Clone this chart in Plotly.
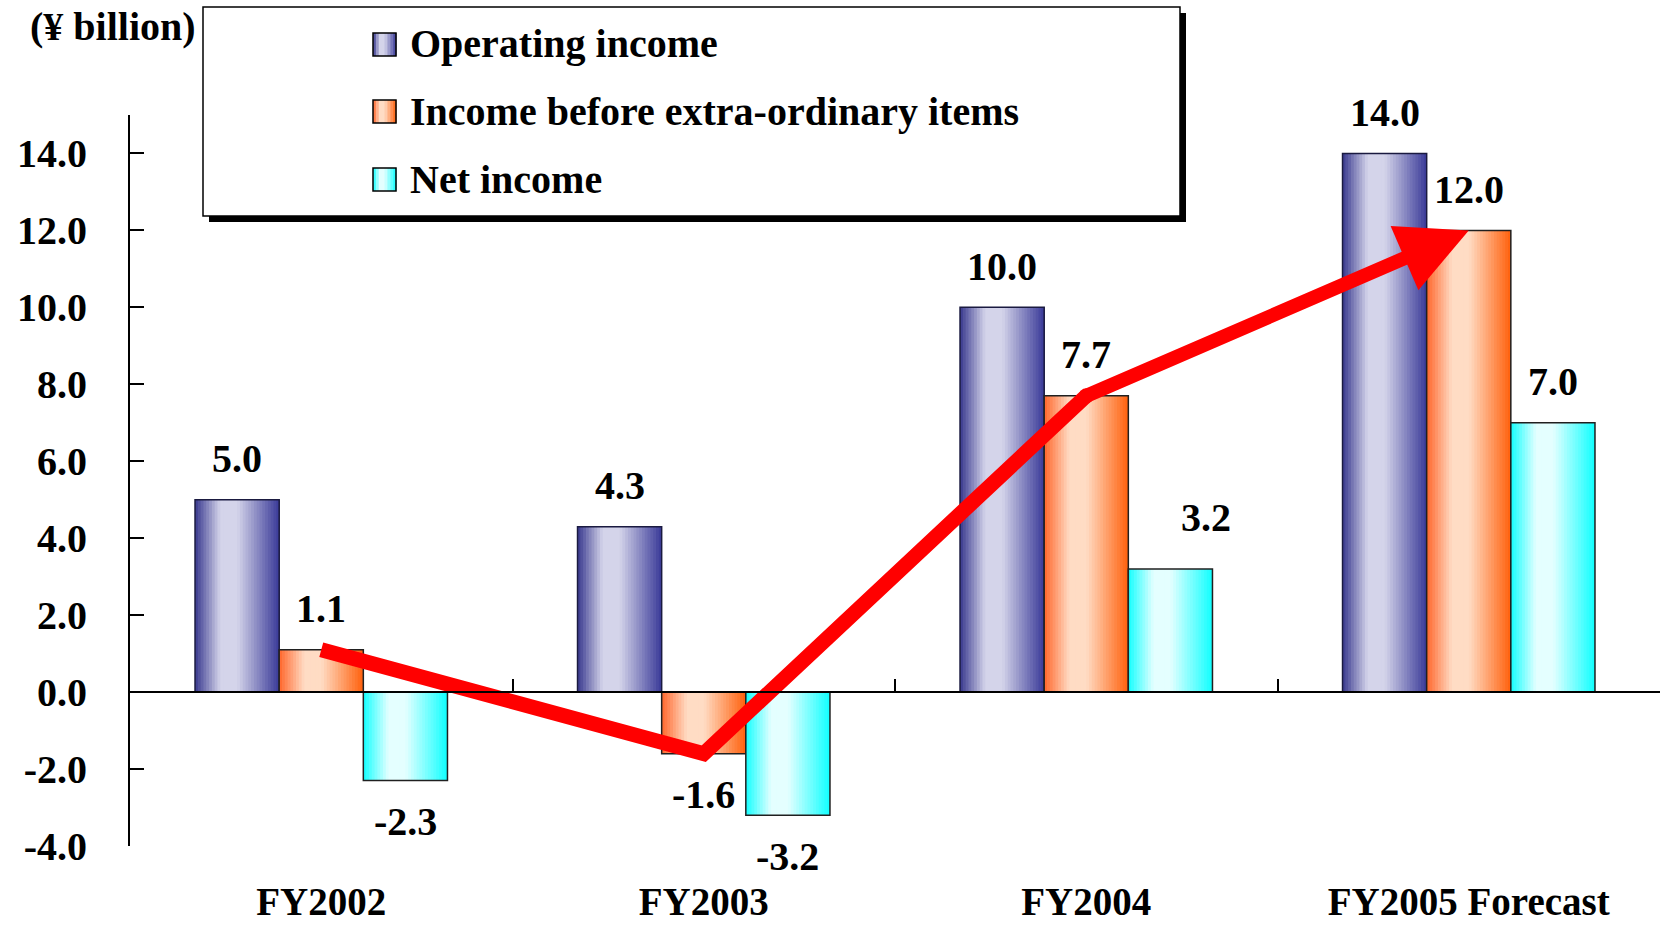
import plotly.graph_objects as go

# --- data -------------------------------------------------------------
categories = ["FY2002", "FY2003", "FY2004", "FY2005 Forecast"]
series_names = ["Operating income", "Income before extra-ordinary items", "Net income"]
operating_income = [5.0, 4.3, 10.0, 14.0]
income_before_extra = [1.1, -1.6, 7.7, 12.0]
net_income = [-2.3, -3.2, 3.2, 7.0]
y_ticks = [-4, -2, 0, 2, 4, 6, 8, 10, 12, 14]
unit_label = "(¥ billion)"

series_values = [operating_income, income_before_extra, net_income]

# --- style ------------------------------------------------------------
FONT = "Liberation Serif"
FS = 40
W, H = 1665, 925
ML, MR, MT, MB = 130, 5, 115, 79
PW, PH = W - ML - MR, H - MT - MB
Y_RANGE = [-4, 15]
BAR_W = 0.22
N_STRIPS = 30
RED = "#ff0000"

# cylinder-like horizontal shading: (pos, colour) stops
GRADIENTS = [
    [(0.0, (0x38, 0x38, 0x8e)), (0.3, (0xd4, 0xd4, 0xea)), (0.5, (0xd4, 0xd4, 0xea)), (1.0, (0x3a, 0x3a, 0x98))],
    [(0.0, (0xff, 0x66, 0x2c)), (0.3, (0xff, 0xdc, 0xc4)), (0.5, (0xff, 0xdc, 0xc4)), (1.0, (0xff, 0x60, 0x0c))],
    [(0.0, (0x14, 0xff, 0xff)), (0.3, (0xe4, 0xff, 0xff)), (0.5, (0xe4, 0xff, 0xff)), (1.0, (0x10, 0xff, 0xff))],
]
OUTLINE = ["#1a1a40", "#202020", "#202020"]

# label nudges (series, category) -> (dx, dy) px
LABEL_NUDGE = {(2, 2): (36, 10)}


def grad_color(stops, t):
    for (p0, c0), (p1, c1) in zip(stops[:-1], stops[1:]):
        if p0 <= t <= p1:
            f = (t - p0) / (p1 - p0) if p1 > p0 else 0
            r, g, b = (round(a + (bb - a) * f) for a, bb in zip(c0, c1))
            return f"rgb({r},{g},{b})"
    r, g, b = stops[-1][1]
    return f"rgb({r},{g},{b})"


def fx(x):
    return (x - ML) / PW


def fy(y):
    return (H - MB - y) / PH


fig = go.Figure()
font = dict(family=FONT, size=FS, color="black", weight="bold")
cat_px = PW / len(categories)

for i, (name, vals) in enumerate(zip(series_names, series_values)):
    left = -1.5 * BAR_W + i * BAR_W
    dw = BAR_W / N_STRIPS
    for k in range(N_STRIPS):
        fig.add_trace(go.Bar(
            x=categories, y=vals, offset=left + k * dw, width=BAR_W - k * dw,
            marker=dict(color=grad_color(GRADIENTS[i], (k + 0.5) / N_STRIPS), line=dict(width=0)),
            showlegend=False, hoverinfo="skip",
        ))
    fig.add_trace(go.Bar(
        x=categories, y=vals, offset=left, width=BAR_W, name=name,
        marker=dict(color="rgba(0,0,0,0)", line=dict(color=OUTLINE[i], width=1.5)),
        showlegend=False,
    ))
    # value labels
    xshift = (left + BAR_W / 2) * cat_px
    for j, v in enumerate(vals):
        dx, dy = LABEL_NUDGE.get((i, j), (0, 0))
        fig.add_annotation(
            x=categories[j], y=v, text=f"{v:.1f}", showarrow=False, font=font,
            xshift=xshift + dx, yshift=(41 if v >= 0 else -41) + dy,
            xanchor="center", yanchor="middle",
        )

# red trend arrow along income before extra-ordinary items
fig.add_trace(go.Scatter(
    x=categories[:3], y=income_before_extra[:3], mode="lines",
    line=dict(color=RED, width=15), showlegend=False, hoverinfo="skip",
))
fig.add_trace(go.Scatter(
    x=[categories[2]], y=[income_before_extra[2]], mode="markers",
    marker=dict(color=RED, size=15, line=dict(width=0)), showlegend=False, hoverinfo="skip",
))
fig.add_annotation(
    x=3, y=income_before_extra[3], ax=2, ay=income_before_extra[2],
    xref="x", yref="y", axref="x", ayref="y", text="", showarrow=True,
    arrowhead=2, arrowsize=1, arrowwidth=14, arrowcolor=RED, standoff=0,
)

# legend box (drawn by hand to match the original)
shapes = [
    dict(type="rect", xref="paper", yref="paper", x0=fx(209), x1=fx(1186), y0=fy(222), y1=fy(13),
         fillcolor="black", line=dict(width=0), layer="above"),
    dict(type="rect", xref="paper", yref="paper", x0=fx(203), x1=fx(1180), y0=fy(216), y1=fy(7),
         fillcolor="white", line=dict(color="black", width=1.5), layer="above"),
]
for i, (name, ry) in enumerate(zip(series_names, [44, 111, 179])):
    n = 8
    for k in range(n):
        shapes.append(dict(type="rect", xref="paper", yref="paper",
                           x0=fx(373 + 23 * k / n), x1=fx(373 + 23 * (k + 1) / n + 0.5),
                           y0=fy(ry + 12), y1=fy(ry - 11),
                           fillcolor=grad_color(GRADIENTS[i], (k + 0.5) / n), line=dict(width=0), layer="above"))
    shapes.append(dict(type="rect", xref="paper", yref="paper", x0=fx(373), x1=fx(396),
                       y0=fy(ry + 12), y1=fy(ry - 11), line=dict(color="black", width=1.5), layer="above"))
    fig.add_annotation(xref="paper", yref="paper", x=fx(408), y=fy(ry), text=name, showarrow=False,
                       font=font, xanchor="left", yanchor="middle")

fig.add_annotation(xref="paper", yref="paper", x=fx(113), y=fy(27), text=unit_label, showarrow=False,
                   font=font, xanchor="center", yanchor="middle")

fig.update_layout(
    width=W, height=H, template="none",
    margin=dict(l=ML, r=MR, t=MT, b=MB),
    paper_bgcolor="white", plot_bgcolor="white",
    barmode="overlay", showlegend=False, shapes=shapes,
    font=dict(family=FONT, color="black"),
)
fig.update_xaxes(
    type="category", categoryarray=categories, range=[-0.5, len(categories) - 0.5],
    anchor="free", position=(0 - Y_RANGE[0]) / (Y_RANGE[1] - Y_RANGE[0]),
    showline=True, linecolor="black", linewidth=2, showgrid=False, zeroline=False,
    ticks="inside", tickson="boundaries", ticklen=12, tickwidth=2, tickcolor="black",
    tickfont=dict(font, size=39), ticklabelstandoff=175,
)
fig.update_yaxes(
    range=Y_RANGE, tickvals=y_ticks, ticktext=[f"{v:.1f}" for v in y_ticks],
    showline=True, linecolor="black", linewidth=2, showgrid=False, zeroline=False,
    ticks="inside", ticklen=14, tickwidth=2, tickcolor="black",
    tickfont=font, ticklabelstandoff=33,
)

fig.write_html("out.html", config={"displayModeBar": False},
               post_script="document.body.style.margin='0px';")
